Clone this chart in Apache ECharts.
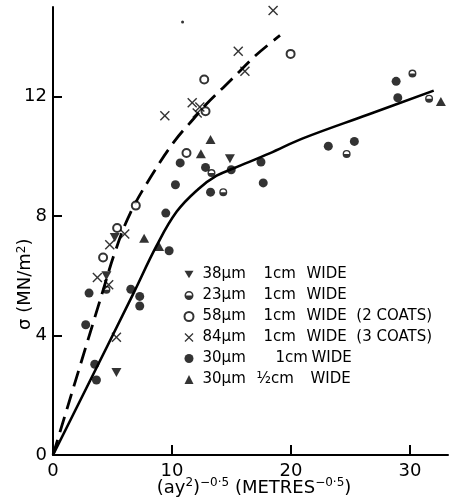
<!DOCTYPE html>
<html><head><meta charset="utf-8">
<script src="https://cdn.jsdelivr.net/npm/echarts@6/dist/echarts.min.js"></script>
<style>html,body{margin:0;padding:0;background:#fff}#c{width:453px;height:502px}</style>
</head><body><div id="c"></div>
<script>
// ---- data ----
const seriesNames = [
  '38μm 1cm WIDE',
  '23μm 1cm WIDE',
  '58μm 1cm WIDE (2 COATS)',
  '84μm 1cm WIDE (3 COATS)',
  '30μm 1cm WIDE',
  '30μm ½cm WIDE'
];
const xTickValues = [0, 10, 20, 30];
const yTickValues = [0, 4, 8, 12];

const down38 = [[14.87,9.92],[5.19,7.28],[4.49,6.00],[5.33,2.76]];
const half23 = [[30.21,12.77],[31.61,11.93],[24.68,10.08],[14.31,8.80],[13.32,9.44],[4.49,5.53]];
const open58 = [[19.97,13.43],[12.71,12.57],[12.82,11.51],[11.22,10.11],[6.96,8.35],[5.39,7.60],[4.21,6.61]];
const cross84 = [[18.5,14.88],[15.57,13.52],[16.13,12.85],[11.70,11.79],[12.34,11.65],[12.12,11.45],[9.40,11.36],[6.03,7.40],[4.77,7.04],[3.73,5.94],[4.68,5.70],[5.33,3.94]];
const filled30 = [[28.84,12.51],[28.98,11.96],[23.14,10.34],[25.33,10.50],[10.69,9.78],[10.29,9.05],[12.82,9.63],[14.98,9.55],[13.24,8.80],[17.48,9.81],[17.67,9.11],[9.48,8.10],[9.76,6.84],[6.54,5.55],[7.29,5.31],[7.29,4.99],[3.03,5.42],[2.75,4.36],[3.51,3.04],[3.65,2.51]];
const tri30half = [[32.6,11.84],[13.24,10.56],[12.43,10.09],[7.66,7.26],[8.92,6.98]];
const speck = [[10.89,14.5]];

const dashedCurve = [[0,0],[4.2,5.5],[5.3,6.9],[6.5,8.1],[8.2,9.3],[10.2,10.5],[11.8,11.25],[12.9,11.75],[14.3,12.3],[15.7,12.85],[17.1,13.4],[19.08,14.05]];
const solidCurve = [[0,0],[6.7,5.36],[8.7,7.0],[10.4,8.15],[12.2,8.9],[13.75,9.35],[15.2,9.6],[18.2,10.1],[21,10.6],[26.5,11.4],[32,12.2]];

// ---- symbols ----
const HALF = 'path://M0,-10A10,10 0 1,1 0,10A10,10 0 1,1 0,-10Z M-6.5,0L6.5,0A6.5,6.5 0 0,0 -6.5,0Z';
const DOWN = 'path://M-5,-4.3L5,-4.3L0,4.3Z';
const CROSS = 'path://M-5,-4L-4,-5L0,-1L4,-5L5,-4L1,0L5,4L4,5L0,1L-4,5L-5,4L-1,0Z';
const black = '#000';
const FONT = 'DejaVu Sans';

const chart = echarts.init(document.getElementById('c'), null, {renderer: 'canvas'});

function legendFmt(name) {
  const i = seriesNames.indexOf(name);
  const p = name.split(' ');
  const k = i === 4 ? '2' : (i === 5 ? '3' : '');
  const rest = p.slice(2).join(' ').replace(' (', '  (');
  return '{a' + k + '|' + p[0] + '}{b' + k + '|' + p[1] + '}{c|' + rest + '}';
}
const rt = {fontFamily: FONT, fontSize: 15, color: black, lineHeight: 14};

chart.setOption({
  animation: false,
  backgroundColor: '#fff',
  grid: {left: 53, right: 5, top: 7, bottom: 47},
  xAxis: {
    type: 'value', min: 0, max: 33.2, interval: 10,
    splitLine: {show: false},
    axisLine: {lineStyle: {color: black, width: 2}},
    axisTick: {inside: true, length: 10, lineStyle: {color: black, width: 2}, customValues: [10, 20, 30]},
    axisLabel: {color: black, fontFamily: FONT, fontSize: 18, margin: 7, customValues: xTickValues}
  },
  yAxis: {
    type: 'value', min: 0, max: 15, interval: 4,
    splitLine: {show: false},
    axisLine: {lineStyle: {color: black, width: 2}},
    axisTick: {inside: true, length: 9, lineStyle: {color: black, width: 2}, customValues: [4, 8, 12]},
    axisLabel: {color: black, fontFamily: FONT, fontSize: 18, margin: 6, customValues: yTickValues}
  },
  legend: {
    data: seriesNames,
    orient: 'vertical', left: 183.5, top: 267, padding: 0,
    itemWidth: 9, itemHeight: 9, itemGap: 6,
    selectedMode: false,
    formatter: legendFmt,
    textStyle: {
      fontFamily: FONT, fontSize: 15, color: black, lineHeight: 14,
      rich: {
        a: Object.assign({}, rt, {width: 61, padding: [0,0,0,4]}),
        b: Object.assign({}, rt, {width: 43}),
        a2: Object.assign({}, rt, {width: 73, padding: [0,0,0,4]}),
        b2: Object.assign({}, rt, {width: 36}),
        a3: Object.assign({}, rt, {width: 54, padding: [0,0,0,4]}),
        b3: Object.assign({}, rt, {width: 54}),
        c: rt
      }
    }
  },
  graphic: [
    {type: 'text', rotation: Math.PI / 2, style: {
      text: 'σ (MN/m{sup|2})', fill: black, font: '18px ' + FONT,
      rich: {sup: {fontFamily: FONT, fontSize: 12, verticalAlign: 'top', padding: [0,0,6,0]}}
    }, x: 16, y: 330, originX: 0, originY: 0},
    {type: 'text', style: {
      text: '(ay{sup|2}){sup|−0·5} (METRES{sup|−0·5})', fill: black, font: '18px ' + FONT,
      align: 'center', verticalAlign: 'middle',
      rich: {sup: {fontFamily: FONT, fontSize: 12, padding: [0,0,10,0]}}
    }, x: 254, y: 488}
  ],
  series: [
    {type: 'line', data: solidCurve, smooth: 0.4, symbol: 'none', silent: true, z: 1,
      lineStyle: {color: black, width: 2.6}},
    {type: 'line', data: dashedCurve, smooth: 0.4, symbol: 'none', silent: true, z: 1,
      lineStyle: {color: black, width: 2.8, type: [16, 8]}},
    {name: seriesNames[0], type: 'scatter', data: down38, symbol: DOWN, symbolSize: [10, 9], itemStyle: {color: black}, z: 3},
    {name: seriesNames[1], type: 'scatter', data: half23, symbol: HALF, symbolSize: 8, itemStyle: {color: black}, z: 3},
    {name: seriesNames[2], type: 'scatter', data: open58, symbol: 'emptyCircle', symbolSize: 8, itemStyle: {color: black, borderColor: black, borderWidth: 1.5}, z: 3},
    {name: seriesNames[3], type: 'scatter', data: cross84, symbol: CROSS, symbolSize: 10, itemStyle: {color: black}, z: 3},
    {name: seriesNames[4], type: 'scatter', data: filled30, symbol: 'circle', symbolSize: 9, itemStyle: {color: black}, z: 3},
    {name: seriesNames[5], type: 'scatter', data: tri30half, symbol: 'triangle', symbolSize: [10, 9], itemStyle: {color: black}, z: 3},
    {type: 'scatter', data: speck, symbol: 'circle', symbolSize: 3, itemStyle: {color: black}, silent: true, z: 3}
  ]
});
</script>
</body></html>
